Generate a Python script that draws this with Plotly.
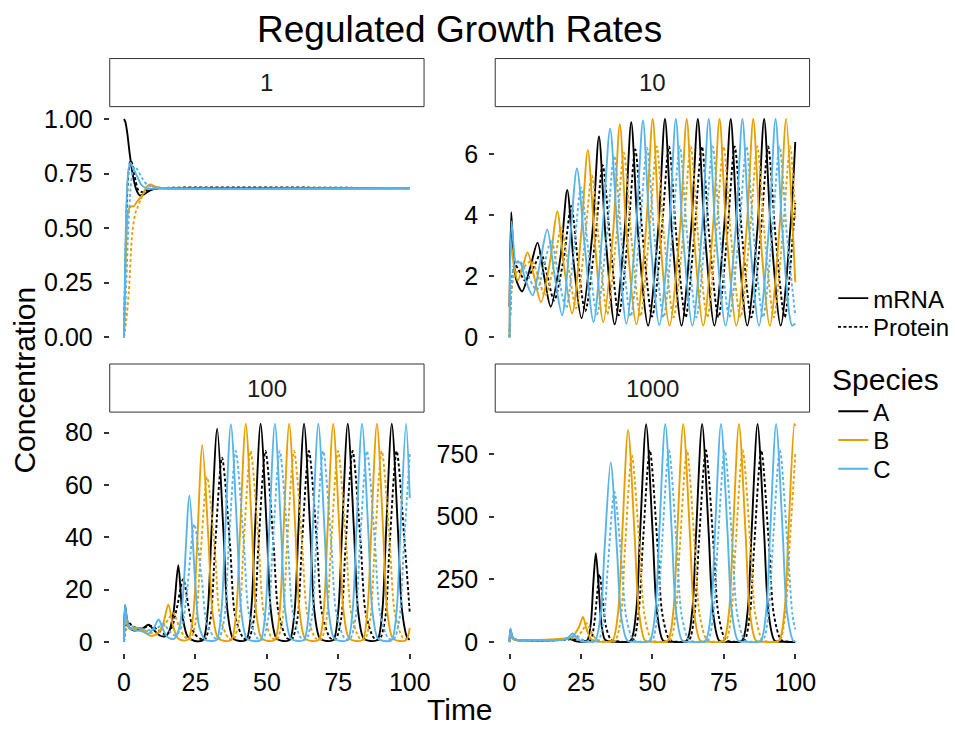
import plotly.graph_objects as go

# ---------------- data (time, concentration) ----------------
facets = ["1", "10", "100", "1000"]
species = ["A", "B", "C"]
species_colors = ["#000000", "#E69F00", "#56B4E9"]
types = ["mRNA", "Protein"]

# facet "1"
f1_A_mrna = [[0, 1.0], [0.5, 0.985], [1.2, 0.93], [2.0, 0.84], [3.0, 0.75], [4.2, 0.68], [5.5, 0.65], [7.0, 0.655], [9.0, 0.672], [12, 0.682], [16, 0.683], [100, 0.683]]
f1_A_prot = [[0, 0], [0.5, 0.35], [1.0, 0.62], [1.6, 0.76], [2.3, 0.81], [3.0, 0.79], [4.0, 0.72], [5.0, 0.675], [6.5, 0.665], [8.5, 0.676], [12, 0.683], [100, 0.683]]
f1_B_mrna = [[0, 0], [0.5, 0.3], [1.0, 0.5], [1.6, 0.585], [2.5, 0.6], [3.4, 0.6], [4.5, 0.62], [6.3, 0.65], [8.0, 0.69], [9.2, 0.70], [11, 0.69], [14, 0.683], [100, 0.683]]
f1_B_prot = [[0, 0], [0.8, 0.08], [1.7, 0.21], [2.9, 0.48], [4.0, 0.57], [4.6, 0.59], [5.8, 0.63], [7.5, 0.67], [9.8, 0.69], [12, 0.686], [15, 0.683], [100, 0.683]]
f1_C_mrna = [[0, 0], [0.4, 0.35], [0.9, 0.62], [1.5, 0.76], [2.2, 0.80], [3.0, 0.78], [4.5, 0.74], [6.0, 0.70], [7.5, 0.685], [9, 0.68], [12, 0.682], [100, 0.683]]
f1_C_prot = [[0, 0], [0.8, 0.25], [1.5, 0.5], [2.3, 0.68], [3.0, 0.76], [3.7, 0.78], [4.6, 0.77], [6.3, 0.73], [8, 0.70], [9.8, 0.69], [13, 0.684], [100, 0.683]]

# facet "10"
f10_A_mrna = [[0, 1.0], [0.6, 4.1], [1.3, 2.8], [2.3, 1.9], [4.4, 1.5], [7.3, 2.3], [9.8, 3.1], [12.1, 2.0], [14.4, 1.0], [17.8, 2.6], [20.2, 4.83], [22.5, 2.4], [25.2, 0.62], [28.9, 3.3], [31.3, 6.58], [33.6, 3.3], [36.8, 0.42], [40.3, 3.5], [42.6, 7.05], [44.9, 3.5], [48.5, 0.38], [52.1, 3.6], [54.4, 7.15], [56.7, 3.6], [60.2, 0.38], [63.6, 3.6], [65.9, 7.15], [68.2, 3.6], [71.7, 0.38], [75.1, 3.6], [77.4, 7.15], [79.7, 3.6], [83.2, 0.38], [86.8, 3.6], [89.1, 7.15], [91.4, 3.6], [94.9, 0.38], [98.3, 3.6], [100, 6.4]]
f10_A_prot = [[0, 0], [0.8, 1.8], [1.8, 2.4], [3.2, 2.2], [5.5, 1.85], [8.5, 2.3], [11.0, 2.75], [13.3, 2.0], [15.6, 1.2], [19.0, 2.6], [21.6, 4.3], [24.0, 2.4], [26.5, 0.85], [30.0, 3.2], [32.6, 5.64], [35.2, 3.2], [38.2, 0.72], [41.5, 3.4], [44.0, 6.15], [46.6, 3.3], [49.9, 0.68], [53.2, 3.4], [55.8, 6.25], [58.4, 3.3], [61.6, 0.65], [64.7, 3.4], [67.3, 6.25], [69.9, 3.3], [73.1, 0.65], [76.2, 3.4], [78.8, 6.25], [81.4, 3.3], [84.6, 0.65], [87.9, 3.4], [90.5, 6.25], [93.1, 3.3], [96.3, 0.65], [99.2, 3.4], [100, 4.4]]
f10_B_mrna = [[0, 0], [0.6, 3.0], [1.6, 2.3], [2.9, 1.86], [4.6, 2.3], [6.3, 2.78], [8.6, 2.0], [11.0, 1.15], [14.2, 2.5], [16.7, 4.13], [19.1, 2.3], [21.9, 0.78], [25.0, 3.3], [27.4, 6.13], [29.8, 3.2], [32.8, 0.5], [36.3, 3.5], [38.6, 6.97], [40.9, 3.5], [44.4, 0.42], [47.8, 3.6], [50.1, 7.15], [52.4, 3.6], [56.0, 0.38], [59.7, 3.6], [62.0, 7.15], [64.3, 3.6], [67.8, 0.38], [71.2, 3.6], [73.5, 7.15], [75.8, 3.6], [79.4, 0.38], [83.0, 3.6], [85.3, 7.15], [87.6, 3.6], [91.1, 0.38], [94.5, 3.6], [96.8, 7.15], [99.1, 3.6], [100, 1.8]]
f10_B_prot = [[0, 0], [0.8, 1.6], [2.0, 2.1], [4.0, 2.2], [7.7, 2.5], [10.0, 2.0], [12.4, 1.35], [15.6, 2.4], [18.1, 3.6], [20.6, 2.3], [23.3, 0.95], [26.2, 3.0], [28.8, 5.3], [31.4, 3.0], [34.2, 0.75], [37.4, 3.3], [40.0, 6.05], [42.6, 3.3], [45.8, 0.68], [48.9, 3.4], [51.5, 6.25], [54.1, 3.3], [57.4, 0.65], [60.8, 3.4], [63.4, 6.25], [66.0, 3.3], [69.2, 0.65], [72.3, 3.4], [74.9, 6.25], [77.5, 3.3], [80.8, 0.65], [84.1, 3.4], [86.7, 6.25], [89.3, 3.3], [92.5, 0.65], [95.6, 3.4], [98.2, 6.25], [100, 3.9]]
f10_C_mrna = [[0, 0], [0.7, 3.8], [1.5, 2.9], [2.2, 2.45], [3.7, 2.45], [5.5, 1.9], [8.1, 1.37], [10.6, 2.4], [13.2, 3.53], [15.8, 2.0], [18.4, 0.72], [21.0, 3.0], [23.6, 5.53], [26.3, 3.0], [29.4, 0.5], [32.6, 3.6], [35.2, 6.83], [37.7, 3.6], [40.9, 0.45], [44.3, 3.6], [46.7, 7.1], [49.0, 3.6], [52.4, 0.4], [55.9, 3.6], [58.2, 7.15], [60.5, 3.6], [64.0, 0.38], [67.4, 3.6], [69.7, 7.15], [72.0, 3.6], [75.6, 0.38], [79.2, 3.6], [81.5, 7.15], [83.8, 3.6], [87.3, 0.38], [90.8, 3.6], [93.1, 7.15], [95.4, 3.6], [98.9, 0.38], [100, 0.45]]
f10_C_prot = [[0, 0], [0.8, 1.8], [1.8, 2.4], [3.5, 2.5], [5.5, 2.2], [9.5, 1.55], [12.0, 2.3], [14.6, 3.2], [17.1, 2.0], [19.8, 0.95], [22.5, 2.8], [25.0, 4.9], [27.6, 2.8], [30.6, 0.75], [34.0, 3.3], [36.6, 5.95], [39.2, 3.2], [42.4, 0.68], [45.5, 3.4], [48.1, 6.2], [50.7, 3.3], [53.9, 0.65], [57.0, 3.4], [59.6, 6.25], [62.2, 3.3], [65.4, 0.65], [68.5, 3.4], [71.1, 6.25], [73.7, 3.3], [76.9, 0.65], [80.3, 3.4], [82.9, 6.25], [85.5, 3.3], [88.7, 0.65], [91.9, 3.4], [94.5, 6.25], [97.1, 3.3], [100, 0.7]]

# facet "100"
f100_A_mrna = [[0, 1], [0.35, 14], [1.0, 9], [1.8, 5.5], [3.5, 4.4], [6.5, 5.2], [8.6, 6.6], [10.5, 4.5], [12.5, 2.5], [14.3, 2.2], [15.6, 3.5], [17.3, 11], [19.0, 29.4], [20.6, 9], [22.3, 2], [24.5, 0.5], [27.6, 0.8], [29.3, 12], [30.6, 42], [32.6, 81.5], [34.8, 42], [36.2, 12], [38.1, 1.5], [40.5, 0.4], [42.8, 0.8], [44.5, 12], [45.8, 42], [47.8, 83.5], [50.0, 42], [51.4, 12], [53.3, 1.5], [55.8, 0.4], [58.0, 0.8], [59.7, 12], [61.0, 42], [63.0, 83.5], [65.2, 42], [66.6, 12], [68.5, 1.5], [71.0, 0.4], [73.3, 0.8], [75.0, 12], [76.3, 42], [78.3, 83.5], [80.5, 42], [81.9, 12], [83.8, 1.5], [86.3, 0.4], [88.7, 0.8], [90.4, 12], [91.7, 42], [93.7, 83.5], [95.9, 42], [97.3, 12], [99.2, 1.5], [100, 0.9]]
f100_A_prot = [[0, 0], [0.7, 6], [1.6, 7.5], [3, 6], [6, 5.2], [9.5, 6.2], [12, 4.5], [14.5, 3.0], [16.5, 5], [18.5, 13], [20.7, 24], [22.8, 12], [24.5, 3.5], [26.8, 1.2], [28.3, 1.0], [30.3, 9], [31.8, 35], [34.3, 70.5], [37.1, 37], [38.9, 10], [41.8, 1.5], [43.5, 1.0], [45.5, 9], [47.0, 36], [49.5, 73], [52.3, 38], [54.1, 11], [57.0, 1.5], [58.7, 1.0], [60.7, 9], [62.2, 36], [64.7, 73], [67.5, 38], [69.3, 11], [72.2, 1.5], [74.0, 1.0], [76.0, 9], [77.5, 36], [80.0, 73], [82.8, 38], [84.6, 11], [87.5, 1.5], [89.4, 1.0], [91.4, 9], [92.9, 36], [95.4, 73], [98.2, 38], [100, 11]]
f100_B_mrna = [[0, 0], [0.35, 10], [1.0, 7], [2.0, 5.0], [4.2, 5.5], [6.5, 4.5], [9, 2.5], [11.5, 3.0], [13.7, 7], [15.5, 14.3], [17.2, 6], [18.8, 1.5], [20.5, 0.6], [22.5, 1.0], [24.2, 10], [25.5, 35], [27.4, 75.2], [29.6, 38], [31.0, 11], [32.9, 1.5], [35.3, 0.4], [37.6, 0.8], [39.3, 12], [40.6, 42], [42.6, 83.5], [44.8, 42], [46.2, 12], [48.1, 1.5], [50.6, 0.4], [52.8, 0.8], [54.5, 12], [55.8, 42], [57.8, 83.5], [60.0, 42], [61.4, 12], [63.3, 1.5], [65.8, 0.4], [68.2, 0.8], [69.9, 12], [71.2, 42], [73.2, 83.5], [75.4, 42], [76.8, 12], [78.7, 1.5], [81.2, 0.4], [83.5, 0.8], [85.2, 12], [86.5, 42], [88.5, 83.5], [90.7, 42], [92.1, 12], [94.0, 1.5], [96.5, 0.4], [98.8, 0.8], [100, 5.4]]
f100_B_prot = [[0, 0], [0.7, 4.5], [1.6, 5.5], [3.5, 5.2], [6.5, 4.8], [9.5, 3.5], [12, 3.5], [14.5, 7], [17.2, 11], [19.3, 6], [21.2, 2], [23.2, 1.0], [25.1, 8], [26.6, 30], [29.1, 63], [31.9, 33], [33.7, 9], [36.6, 1.5], [38.3, 1.0], [40.3, 9], [41.8, 36], [44.3, 73], [47.1, 38], [48.9, 11], [51.8, 1.5], [53.5, 1.0], [55.5, 9], [57.0, 36], [59.5, 73], [62.3, 38], [64.1, 11], [67.0, 1.5], [68.9, 1.0], [70.9, 9], [72.4, 36], [74.9, 73], [77.7, 38], [79.5, 11], [82.4, 1.5], [84.2, 1.0], [86.2, 9], [87.7, 36], [90.2, 73], [93.0, 38], [94.8, 11], [97.7, 1.5], [100, 1.2]]
f100_C_mrna = [[0, 0], [0.35, 14.3], [1.0, 9], [1.8, 5.5], [3.5, 4.6], [6, 4.2], [8.5, 3.2], [10.5, 5.5], [12.1, 8.6], [13.6, 5], [15.3, 1.8], [17.5, 1.2], [19.5, 6], [20.9, 22], [22.9, 56], [24.8, 25], [26.3, 6], [28.3, 1.0], [30.5, 0.4], [32.4, 0.8], [34.1, 12], [35.4, 42], [37.4, 83.3], [39.6, 42], [41.0, 12], [42.9, 1.5], [45.3, 0.4], [47.8, 0.8], [49.5, 12], [50.8, 42], [52.8, 83.5], [55.0, 42], [56.4, 12], [58.3, 1.5], [60.8, 0.4], [63.0, 0.8], [64.7, 12], [66.0, 42], [68.0, 83.5], [70.2, 42], [71.6, 12], [73.5, 1.5], [76.0, 0.4], [78.3, 0.8], [80.0, 12], [81.3, 42], [83.3, 83.5], [85.5, 42], [86.9, 12], [88.8, 1.5], [91.2, 0.4], [93.7, 0.8], [95.4, 12], [96.7, 42], [98.7, 83.5], [100, 55]]
f100_C_prot = [[0, 0], [0.7, 5.5], [1.6, 6.5], [3.5, 5.8], [6.5, 5.0], [9.5, 4.5], [11.8, 5.5], [13.8, 7], [16.0, 4], [18.0, 2.5], [20.2, 6], [22.1, 20], [24.6, 45], [27.2, 24], [29.0, 7], [31.8, 1.5], [33.1, 1.0], [35.1, 9], [36.6, 36], [39.1, 73], [41.9, 38], [43.7, 11], [46.6, 1.5], [48.5, 1.0], [50.5, 9], [52.0, 36], [54.5, 73], [57.3, 38], [59.1, 11], [62.0, 1.5], [63.7, 1.0], [65.7, 9], [67.2, 36], [69.7, 73], [72.5, 38], [74.3, 11], [77.2, 1.5], [79.0, 1.0], [81.0, 9], [82.5, 36], [85.0, 73], [87.8, 38], [89.6, 11], [92.5, 1.5], [94.4, 1.0], [96.4, 9], [97.9, 36], [100, 72]]

# facet "1000"
f1000_A_mrna = [[0, 1], [0.3, 50], [1.0, 20], [2.0, 9], [5, 7], [10, 6.5], [15, 7], [18.5, 10], [20.7, 15], [22.5, 6], [24, 1.5], [26.0, 2], [27.3, 8], [28.5, 80], [29.3, 230], [30.2, 355], [31.2, 220], [32.2, 70], [33.5, 8], [37.5, 1], [42.3, 5], [44.3, 120], [45.7, 435], [47.8, 869], [50.1, 435], [51.6, 120], [53.8, 5], [57, 1], [61.9, 5], [63.9, 120], [65.3, 435], [67.4, 870], [69.7, 435], [71.2, 120], [73.4, 5], [76.5, 1], [81.3, 5], [83.3, 120], [84.7, 435], [86.8, 870], [89.1, 435], [90.6, 120], [92.8, 5], [96, 1], [100, 0.5]]
f1000_A_prot = [[0, 0], [0.6, 25], [1.5, 14], [3, 8], [8, 6.5], [15, 7], [19.5, 9], [22.2, 12], [24.5, 5], [27.0, 2], [28.5, 10], [29.7, 80], [30.5, 170], [31.5, 270], [32.6, 170], [33.8, 60], [35.5, 10], [38.5, 2], [43.1, 5], [45.1, 110], [46.6, 380], [49.1, 765], [51.8, 385], [53.5, 110], [56.1, 8], [59.1, 1], [62.7, 5], [64.7, 110], [66.2, 380], [68.7, 765], [71.4, 385], [73.1, 110], [75.7, 8], [78.7, 1], [82.1, 5], [84.1, 110], [85.6, 380], [88.1, 765], [90.8, 385], [92.5, 110], [95.1, 8], [98.1, 1], [100, 1]]
f1000_B_mrna = [[0, 0], [0.3, 35], [1.0, 15], [2, 8], [5, 7], [10, 8], [15, 10], [19, 14], [22, 22], [24.3, 60], [25.7, 100], [27.0, 50], [28.5, 12], [30.5, 2], [33, 1], [36.0, 5], [38.0, 120], [39.4, 420], [41.5, 846], [43.8, 420], [45.3, 120], [47.5, 5], [50.5, 1], [55.3, 5], [57.3, 120], [58.7, 435], [60.8, 870], [63.1, 435], [64.6, 120], [66.8, 5], [70, 1], [74.8, 5], [76.8, 120], [78.2, 435], [80.3, 870], [82.6, 435], [84.1, 120], [86.3, 5], [89.5, 1], [94.2, 5], [96.2, 120], [97.6, 435], [99.7, 870], [100, 862]]
f1000_B_prot = [[0, 0], [0.6, 18], [1.5, 11], [3, 8], [8, 7.5], [14, 9], [19, 12], [23, 18], [25.5, 45], [27.0, 75], [28.6, 40], [30.2, 12], [32.5, 3], [35.0, 1], [37.0, 5], [39.0, 100], [40.4, 370], [42.8, 745], [45.5, 380], [47.2, 110], [49.8, 8], [52.8, 1], [56.1, 5], [58.1, 110], [59.6, 380], [62.1, 765], [64.8, 385], [66.5, 110], [69.1, 8], [72.1, 1], [75.6, 5], [77.6, 110], [79.1, 380], [81.6, 765], [84.3, 385], [86.0, 110], [88.6, 8], [91.6, 1], [94.5, 5], [96.5, 110], [98.0, 380], [100, 750]]
f1000_C_mrna = [[0, 0], [0.3, 54], [0.9, 25], [1.8, 10], [5, 7], [10, 6.5], [15, 7], [19, 10], [20.7, 20], [22.1, 34], [23.4, 18], [25, 4], [27, 1], [29.9, 5], [31.9, 110], [33.3, 380], [35.4, 717], [37.6, 370], [39.1, 100], [41.3, 5], [44.5, 1], [49.0, 5], [51.0, 120], [52.4, 435], [54.5, 870], [56.8, 435], [58.3, 120], [60.5, 5], [63.5, 1], [68.5, 5], [70.5, 120], [71.9, 435], [74.0, 870], [76.3, 435], [77.8, 120], [80.0, 5], [83, 1], [87.8, 5], [89.8, 120], [91.2, 435], [93.3, 870], [95.6, 435], [97.1, 120], [99.3, 5], [100, 3]]
f1000_C_prot = [[0, 0], [0.6, 28], [1.5, 15], [3, 8], [8, 6.5], [15, 7], [19.5, 9], [21.5, 16], [23.4, 25], [25.2, 12], [27.5, 3], [30.5, 1], [31.2, 5], [33.0, 90], [34.4, 300], [36.7, 600], [39.2, 320], [40.9, 95], [43.4, 8], [46.4, 1], [49.8, 5], [51.8, 110], [53.3, 380], [55.8, 765], [58.5, 385], [60.2, 110], [62.8, 8], [65.8, 1], [69.3, 5], [71.3, 110], [72.8, 380], [75.3, 765], [78.0, 385], [79.7, 110], [82.3, 8], [85.3, 1], [88.6, 5], [90.6, 110], [92.1, 380], [94.6, 765], [97.3, 385], [99.0, 110], [100, 50]]

series = {
    "1": {"A": (f1_A_mrna, f1_A_prot), "B": (f1_B_mrna, f1_B_prot), "C": (f1_C_mrna, f1_C_prot)},
    "10": {"A": (f10_A_mrna, f10_A_prot), "B": (f10_B_mrna, f10_B_prot), "C": (f10_C_mrna, f10_C_prot)},
    "100": {"A": (f100_A_mrna, f100_A_prot), "B": (f100_B_mrna, f100_B_prot), "C": (f100_C_mrna, f100_C_prot)},
    "1000": {"A": (f1000_A_mrna, f1000_A_prot), "B": (f1000_B_mrna, f1000_B_prot), "C": (f1000_C_mrna, f1000_C_prot)},
}

x_ticks = [0, 25, 50, 75, 100]
y_ticks = {
    "1": [0, 0.25, 0.5, 0.75, 1.0],
    "10": [0, 2, 4, 6],
    "100": [0, 20, 40, 60, 80],
    "1000": [0, 250, 500, 750],
}
y_tick_labels = {
    "1": ["0.00", "0.25", "0.50", "0.75", "1.00"],
    "10": ["0", "2", "4", "6"],
    "100": ["0", "20", "40", "60", "80"],
    "1000": ["0", "250", "500", "750"],
}
y_ranges = {"1": [-0.05, 1.05], "10": [-0.3575, 7.5075], "100": [-4.19, 88.0], "1000": [-43.7, 918.6]}

# ---------------- layout geometry ----------------
W, H = 955, 729
FONT = "Liberation Sans, Arial, Helvetica, sans-serif"
x_dom = {"1": [111 / W, 429 / W], "10": [501 / W, 819 / W], "100": [111 / W, 429 / W], "1000": [501 / W, 819 / W]}
y_dom = {"1": [1 - 348 / H, 1 - 106 / H], "10": [1 - 348 / H, 1 - 106 / H],
         "100": [1 - 655.4 / H, 1 - 412.2 / H], "1000": [1 - 655.4 / H, 1 - 412.2 / H]}
strip_y = {"1": [1 - 104.5 / H, 1 - 56 / H], "10": [1 - 104.5 / H, 1 - 56 / H],
           "100": [1 - 412.5 / H, 1 - 364 / H], "1000": [1 - 412.5 / H, 1 - 364 / H]}
axis_id = {"1": "", "10": "2", "100": "3", "1000": "4"}

fig = go.Figure()
LW = 1.9
DOT = "3px,2.4px"
for f in facets:
    for s, col in zip(species, species_colors):
        for k, typ in enumerate(types):
            pts = series[f][s][k]
            fig.add_trace(go.Scatter(
                x=[p[0] for p in pts], y=[p[1] for p in pts], mode="lines",
                line=dict(color=col, width=LW, dash="solid" if k == 0 else DOT, shape="spline", smoothing=0.8),
                xaxis="x" + axis_id[f], yaxis="y" + axis_id[f], showlegend=False, hoverinfo="skip"))

# legend entries: one small legend per key so each row sits where the reference puts it
legend_rows = [("mRNA", "black", "solid", "legend", 298),
               ("Protein", "black", DOT, "legend2", 327),
               ("A", species_colors[0], "solid", "legend3", 412),
               ("B", species_colors[1], "solid", "legend4", 441),
               ("C", species_colors[2], "solid", "legend5", 470)]
for name, col, dash, lg, _ in legend_rows:
    fig.add_trace(go.Scatter(x=[None], y=[None], mode="lines", name=name,
                             line=dict(color=col, width=LW, dash=dash), legend=lg))

LEG_X = 843 / W
layout = dict(
    width=W, height=H, margin=dict(l=0, r=0, t=0, b=0),
    paper_bgcolor="white", plot_bgcolor="white",
    font=dict(family=FONT, color="black", size=24),
    shapes=[], annotations=[],
)
for name, col, dash, lg, yc in legend_rows:
    layout[lg] = dict(x=LEG_X, y=1 - yc / H, xanchor="left", yanchor="middle",
                      font=dict(size=24, color="black"), bgcolor="rgba(0,0,0,0)",
                      borderwidth=0, tracegroupgap=0, itemwidth=30)

for f in facets:
    a = axis_id[f]
    bottom = f in ("100", "1000")
    layout["xaxis" + a] = dict(domain=x_dom[f], range=[-5, 105], anchor="y" + a,
                               showgrid=False, zeroline=False, showline=False,
                               tickvals=x_ticks, ticktext=[str(v) for v in x_ticks],
                               showticklabels=bottom, ticks="outside" if bottom else "",
                               ticklen=5, tickwidth=1.5, tickcolor="#333333",
                               tickfont=dict(size=25, color="black"), ticklabelstandoff=2)
    layout["yaxis" + a] = dict(domain=y_dom[f], range=y_ranges[f], anchor="x" + a,
                               showgrid=False, zeroline=False, showline=False,
                               tickvals=y_ticks[f], ticktext=y_tick_labels[f],
                               ticks="outside", ticklen=5, tickwidth=1.5, tickcolor="#333333",
                               tickfont=dict(size=25, color="black"), ticklabelstandoff=6)
    # strip
    layout["shapes"].append(dict(type="rect", xref="paper", yref="paper",
                                 x0=x_dom[f][0], x1=x_dom[f][1], y0=strip_y[f][0], y1=strip_y[f][1],
                                 line=dict(color="#333333", width=1), fillcolor="white", layer="below"))
    layout["annotations"].append(dict(text=f, xref="paper", yref="paper",
                                      x=(x_dom[f][0] + x_dom[f][1]) / 2, y=(strip_y[f][0] + strip_y[f][1]) / 2,
                                      xanchor="center", yanchor="middle", showarrow=False,
                                      font=dict(size=24, color="#1a1a1a")))

layout["annotations"] += [
    dict(text="Regulated Growth Rates", xref="paper", yref="paper", x=464.5 / W, y=1 - 27 / H,
         xanchor="center", yanchor="middle", showarrow=False, font=dict(size=37, color="black")),
    dict(text="Time", xref="paper", yref="paper", x=465 / W, y=1 - 712 / H,
         xanchor="center", yanchor="middle", showarrow=False, font=dict(size=30, color="black")),
    dict(text="Concentration", xref="paper", yref="paper", x=25 / W, y=1 - 380 / H, textangle=-90,
         xanchor="center", yanchor="middle", showarrow=False, font=dict(size=30, color="black")),
    dict(text="Species", xref="paper", yref="paper", x=840 / W, y=1 - 380 / H,
         xanchor="left", yanchor="middle", showarrow=False, font=dict(size=30, color="black")),
]

fig.update_layout(**layout)
fig.write_html(
    "out.html",
    config={"displayModeBar": False},
    post_script=("document.body.style.margin='0';"
                 "var gd=document.getElementById('{plot_id}');"
                 "gd.style.position='fixed';gd.style.left='0px';gd.style.top='0px';"),
)
